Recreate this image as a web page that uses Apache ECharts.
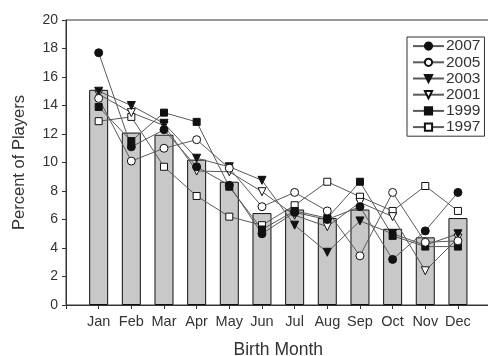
<!DOCTYPE html>
<html>
<head>
<meta charset="utf-8">
<script src="https://cdn.jsdelivr.net/npm/echarts@6/dist/echarts.min.js"></script>
<style>
html,body{margin:0;padding:0;background:#fff;}
#chart{width:488px;height:356px;}
</style>
</head>
<body>
<div id="chart"></div>
<script>
const months = ['Jan','Feb','Mar','Apr','May','Jun','Jul','Aug','Sep','Oct','Nov','Dec'];
const yTicks = [0,2,4,6,8,10,12,14,16,18,20];
const barValues = [15.1, 12.1, 11.95, 10.2, 8.65, 6.45, 6.7, 6.1, 6.7, 5.35, 4.75, 6.1];
const s2007 = [17.7, 11.1, 12.3, 9.7, 8.4, 5.0, 6.5, 6.0, 6.9, 3.2, 5.2, 7.9];
const s2005 = [14.5, 10.1, 11.0, 11.6, 9.6, 6.9, 7.9, 6.6, 3.45, 7.9, 4.4, 4.5];
const s2003 = [15.0, 14.0, 12.75, 10.3, 9.7, 8.75, 5.6, 3.7, 5.9, 5.0, 4.2, 5.0];
const s2001 = [14.8, 13.5, 12.6, 9.4, 9.35, 7.95, 6.3, 5.5, 7.2, 6.2, 2.4, 4.7];
const s1999 = [13.9, 11.5, 13.5, 12.85, 8.3, 5.3, 6.6, 6.1, 8.65, 4.85, 4.1, 4.1];
const s1997 = [12.9, 13.2, 9.7, 7.65, 6.2, 5.6, 7.0, 8.65, 7.6, 6.6, 8.35, 6.6];

const FONT = "'Liberation Sans', Arial, sans-serif";
const toPairs = arr => arr.map((v, i) => [i + 1, v]);

function lineSeries(name, data, symbol, filled, rotate) {
  return {
    name: name,
    type: 'line',
    data: toPairs(data),
    symbol: symbol,
    symbolSize: symbol === 'rect' ? 7 : 8,
    symbolRotate: rotate || 0,
    showAllSymbol: true,
    lineStyle: { color: '#5a5a5a', width: 1 },
    itemStyle: { color: filled ? '#111' : '#fff', borderColor: '#111', borderWidth: 1 },
    emphasis: { disabled: true },
    z: 3
  };
}

const chart = echarts.init(document.getElementById('chart'), null, { renderer: 'canvas' });
chart.setOption({
  animation: false,
  backgroundColor: '#fff',
  textStyle: { fontFamily: FONT },
  grid: { left: 66, top: 20, width: 424.6, height: 285, show: true, borderColor: '#333', borderWidth: 1,
          containLabel: false, outerBoundsMode: 'none' },
  legend: {
    data: ['2007','2005','2003','2001','1999','1997'],
    orient: 'vertical',
    left: 407,
    top: 37,
    itemWidth: 31,
    itemHeight: 9,
    itemGap: 0,
    padding: [1, 4, 1, 5],
    borderColor: '#333',
    borderWidth: 1,
    backgroundColor: '#fff',
    textStyle: { fontFamily: FONT, fontSize: 15.5, color: '#333', lineHeight: 16.2, padding: [0,0,0,-3] }
  },
  xAxis: {
    type: 'value',
    min: 0, max: 13, interval: 1,
    name: 'Birth Month',
    nameLocation: 'middle',
    nameGap: 36,
    nameTextStyle: { fontFamily: FONT, fontSize: 17.5, color: '#333' },
    axisLine: { show: true, lineStyle: { color: '#333', width: 1 } },
    axisTick: { show: true, length: 4, lineStyle: { color: '#333' } },
    axisLabel: { fontFamily: FONT, fontSize: 14.5, color: '#333', margin: 9,
      formatter: v => months[v - 1] || '' },
    splitLine: { show: false }
  },
  yAxis: {
    type: 'value',
    min: yTicks[0], max: yTicks[yTicks.length - 1], interval: 2,
    name: 'Percent of Players',
    nameLocation: 'middle',
    nameGap: 38,
    nameTextStyle: { fontFamily: FONT, fontSize: 16.5, color: '#333' },
    axisLine: { show: true, lineStyle: { color: '#333', width: 1 } },
    axisTick: { show: true, length: 4, lineStyle: { color: '#333' } },
    axisLabel: { fontFamily: FONT, fontSize: 14, color: '#333', margin: 8 },
    splitLine: { show: false }
  },
  series: [
    {
      name: 'Total',
      type: 'bar',
      data: toPairs(barValues),
      barWidth: 19,
      itemStyle: { color: '#c8c8c8', borderColor: '#111', borderWidth: 1 },
      emphasis: { disabled: true },
      z: 2
    },
    lineSeries('1997', s1997, 'rect', false),
    lineSeries('1999', s1999, 'rect', true),
    lineSeries('2001', s2001, 'triangle', false, 180),
    lineSeries('2003', s2003, 'triangle', true, 180),
    lineSeries('2005', s2005, 'circle', false),
    lineSeries('2007', s2007, 'circle', true)
  ]
});
</script>
</body>
</html>
